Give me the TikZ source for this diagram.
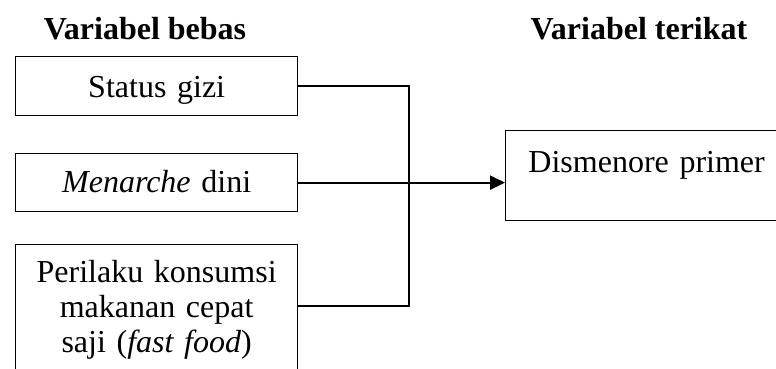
\documentclass[tikz,border=0pt]{standalone}
\usepackage{fontspec}
\setmainfont{Liberation Serif}
\usetikzlibrary{arrows.meta}
\begin{document}
\begin{tikzpicture}[x=1pt,y=1pt,
  txt/.style={font=\fontsize{32}{35}\selectfont},
  hdr/.style={font=\fontsize{32}{35}\selectfont\bfseries, inner sep=0pt, anchor=base},
  vbox/.style={draw, line width=1.3pt, txt, minimum width=282pt, text width=282pt, align=center, inner sep=0pt},
  conn/.style={line width=1.3pt},
  mainarrow/.style={line width=2pt, -{Triangle[length=15pt,width=14pt]}}]
\useasboundingbox (0,0) rectangle (776,369);
\node[hdr] (h1) at (145,329) {Variabel bebas};
\node[hdr] (h2) at (639,329) {Variabel terikat};
\node[vbox, anchor=north west, text height=41pt, text depth=18pt] (b1) at (15,313) {Status gizi};
\node[vbox, anchor=north west, text height=39pt, text depth=19pt] (b2) at (15,216) {\textit{Menarche} dini};
\node[vbox, anchor=north west, text height=38pt, text depth=92pt] (b3) at (15,125) {Perilaku konsumsi\\ makanan cepat\\ saji (\textit{fast food})};
\node[vbox, anchor=north west, text height=42pt, text depth=48pt] (r) at (505,239) {Dismenore primer};
\coordinate (jx) at (409,0);
\draw[conn] (b1.east) -| (jx |- 0,63) -- (b3.east |- 0,63);
\draw[mainarrow] (b2.east) -- (r.west |- b2.east);
\end{tikzpicture}
\end{document}
